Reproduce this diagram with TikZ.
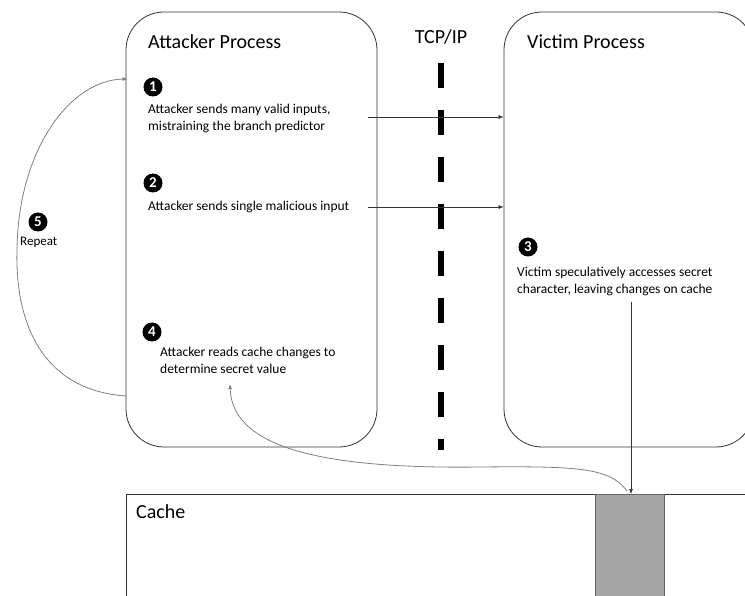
\documentclass[tikz,border=0pt]{standalone}
\usepackage{fontspec}
\setmainfont{Carlito}
\usetikzlibrary{arrows.meta,calc}
\begin{document}
\begin{tikzpicture}[x=1pt,y=-1pt,
  procbox/.style={draw=black!80,line width=0.8pt,rounded corners=38pt,minimum width=251pt,minimum height=435pt,inner sep=0pt},
  title/.style={font=\fontsize{20}{24}\selectfont,anchor=west,inner sep=0pt},
  body/.style={font=\fontsize{13.5}{17}\selectfont,anchor=west,align=left,inner sep=0pt},
  num/.style={circle,fill=black,text=white,inner sep=0pt,minimum size=19pt,font=\fontsize{15}{15}\selectfont\bfseries},
  msg/.style={draw=black!80,line width=0.6pt,-{Latex[length=5pt,width=4pt]}},
  curv/.style={draw=black!50,line width=0.8pt,-{Latex[length=5pt,width=4pt]}},
  tcp/.style={line width=6pt,dash pattern=on 25pt off 22pt}]
\clip (0,0) rectangle (745,596);
\fill[white] (0,0) rectangle (745,596);
% process boxes
\node[procbox] (att) at (251.5,229.5) {};
\node[procbox,minimum width=250pt] (vic) at (629,229.5) {};
\node[title] (atttitle) at (148,42) {Attacker Process};
\node[title] (victitle) at (527,42) {Victim Process};
% TCP/IP
\node[font=\fontsize{20}{24}\selectfont,inner sep=0pt] (tcplabel) at (441,37) {TCP/IP};
\coordinate (tcptop) at (441,63);
\coordinate (tcpbot) at (441,450);
\draw[tcp] (tcptop) -- (tcpbot);
% cache
\node[draw=black!80,line width=0.8pt,minimum width=700pt,minimum height=150pt,anchor=north west,inner sep=0pt] (cache) at (126,494) {};
\node[draw=black!60,fill=black!35,line width=0.8pt,minimum width=69pt,minimum height=150pt,anchor=north west,inner sep=0pt] (cell) at (595,494) {};
\node[title] (cachelbl) at (136,512) {Cache};
% step numbers
\node[num] (n1) at (153,87) {1};
\node[num] (n2) at (153,183) {2};
\node[num] (n3) at (528,247) {3};
\node[num] (n4) at (152,332) {4};
\node[num] (n5) at (38,222) {5};
% texts
\node[body] (t1) at (148,118) {Attacker sends many valid inputs,\\mistraining the branch predictor};
\node[body] (t2) at (148,207) {Attacker sends single malicious input};
\node[body] (t3) at (517,281.5) {Victim speculatively accesses secret\\character, leaving changes on cache};
\node[body] (t4) at (160,360) {Attacker reads cache changes to\\determine secret value};
\node[font=\fontsize{13}{15}\selectfont,anchor=west,inner sep=0pt] (rep) at (20,242) {Repeat};
% connectors
\coordinate (s1) at (368,117);
\coordinate (s2) at (368,207);
\coordinate (s3) at (631,302);
\draw[msg] (s1) -- (s1 -| vic.west);
\draw[msg] (s2) -- (s2 -| vic.west);
\draw[msg] (s3) -- (s3 |- cache.north);
\coordinate (c4a) at (627,491);
\coordinate (c4b) at (230,384);
\draw[curv] (c4a) .. controls (610,468) and (580,466) .. (480,467) .. controls (330,469) and (232,450) .. (c4b);
\coordinate (c5a) at (126,396);
\coordinate (c5b) at (127.6,79);
\draw[curv] (c5a) .. controls (40,390) and (15,320) .. (17,250) .. controls (18,150) and (70,80) .. (c5b);
\end{tikzpicture}
\end{document}
